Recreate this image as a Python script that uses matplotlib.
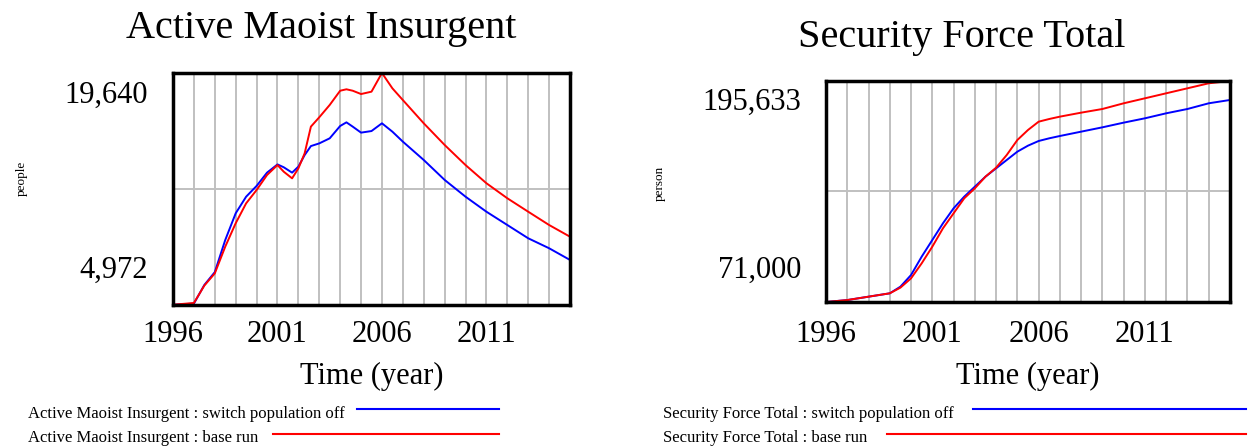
import matplotlib
matplotlib.use("Agg")
import matplotlib.pyplot as plt
from matplotlib.lines import Line2D
from matplotlib.transforms import offset_copy

plt.rcParams['font.family'] = ['Liberation Serif', 'DejaVu Serif']

# ---- simulation output (two runs per variable) ----
t_ins = [1996, 1997, 1997.5, 1998, 1998.5, 1999, 1999.5, 2000, 2000.5, 2001,
         2001.3, 2001.7, 2002, 2002.3, 2002.6, 2003, 2003.5, 2004, 2004.3, 2004.6,
         2005, 2005.5, 2006, 2006.5, 2007, 2008, 2009, 2010, 2011, 2012, 2013,
         2014, 2015]
ins_switch_off = [4990, 5060, 6240, 7050, 9080, 10770, 11820, 12500, 13340, 13860,
                  13680, 13340, 13720, 14450, 15020, 15190, 15510, 16290, 16520, 16250,
                  15870, 15970, 16460, 15930, 15300, 14140, 12880, 11820, 10870, 10030, 9190,
                  8560, 7820]
ins_base = [4990, 5100, 6200, 6970, 8660, 10140, 11400, 12240, 13190, 13820,
            13400, 12980, 13610, 14560, 16250, 16840, 17620, 18520, 18610, 18520,
            18310, 18460, 19640, 18670, 17930, 16460, 15090, 13820, 12670, 11720, 10870,
            10030, 9290]
ins_range = [4972, 19640]

t_sec = [1996, 1997, 1998, 1999, 1999.5, 2000, 2000.5, 2001, 2001.5, 2002, 2002.5,
         2003, 2003.5, 2004, 2004.5, 2005, 2005.5, 2006, 2006.5, 2007, 2008, 2009,
         2010, 2011, 2012, 2013, 2014, 2015]
sec_switch_off = [71000, 72100, 74000, 75900, 79650, 86230, 96570, 105970, 115370,
                  123830, 130400, 136040, 141680, 146390, 151090, 155790, 159170,
                  161800, 163320, 164620, 167070, 169510, 172150, 174600, 177420,
                  179850, 183060, 184930]
sec_base = [71000, 72100, 74000, 75900, 79100, 84350, 92810, 102200, 112550, 121010,
            129460, 135100, 141680, 146760, 153910, 162370, 168010, 172690, 174210,
            175530, 177780, 179850, 183060, 185880, 188700, 191520, 194340, 195633]
sec_range = [71000, 195633]

year_ticks = [1996, 2001, 2006, 2011]

W, H = 1249, 446
fig = plt.figure(figsize=(W / 100, H / 100), dpi=100)


def px_axes(x0, y0, x1, y1):
    return fig.add_axes([x0 / W, 1 - y1 / H, (x1 - x0) / W, (y1 - y0) / H])


def vensim_panel(ax, t, blue, red, yr, unit, top_off, bot_off, unit_xy, xpad):
    ax.plot(t, blue, color='#0000ff', lw=1.4, zorder=3)
    ax.plot(t, red, color='#ff0000', lw=1.4, zorder=3)
    ax.set_xlim(1996, 2015)
    ax.set_ylim(yr[0], yr[1])

    ax.set_xticks(year_ticks)
    ax.set_xticklabels([str(y) for y in year_ticks], fontsize=22)
    ax.set_xticks(range(1996, 2016), minor=True)
    ax.tick_params(axis='x', which='both', length=0, pad=xpad)
    ax.set_yticks([])
    ax.grid(True, axis='x', which='both', color='#c0c0c0', lw=1.4, zorder=1)
    ax.axhline((yr[0] + yr[1]) / 2, color='#c0c0c0', lw=1.4, zorder=1)

    for s in ax.spines.values():
        s.set_linewidth(2.5)
        s.set_color('black')
        s.set_zorder(5)

    # min / max labels sit inside the frame corners, Vensim style
    tr = ax.get_yaxis_transform()
    ax.text(0, yr[1], f"{yr[1]:,}", ha='right', va='center', fontsize=22,
            transform=offset_copy(tr, fig=fig, x=-25, y=-top_off, units='dots'))
    ax.text(0, yr[0], f"{yr[0]:,}", ha='right', va='center', fontsize=22,
            transform=offset_copy(tr, fig=fig, x=-25, y=bot_off, units='dots'))

    ax.set_xlabel("Time (year)", fontsize=22, labelpad=9)
    ax.set_ylabel(unit, fontsize=9.5)
    ax.yaxis.set_label_coords(unit_xy[0], unit_xy[1])


ax1 = px_axes(173, 73, 570, 305)
vensim_panel(ax1, t_ins, ins_switch_off, ins_base, ins_range, "people",
             22, 35, (-0.366, 0.547), 11)

ax2 = px_axes(826, 81, 1230, 302)
vensim_panel(ax2, t_sec, sec_switch_off, sec_base, sec_range, "person",
             21, 32, (-0.397, 0.538), 13)

fig.text(321 / W, 1 - 38 / H, "Active Maoist Insurgent", fontsize=29,
         ha='center', va='baseline')
fig.text(962 / W, 1 - 47 / H, "Security Force Total", fontsize=29,
         ha='center', va='baseline')


# legends below each panel
def legend_row(x_text, y_base, label, x0, x1, y_line, color):
    fig.text(x_text / W, 1 - y_base / H, label, fontsize=12, ha='left', va='baseline')
    fig.add_artist(Line2D([x0 / W, x1 / W], [1 - y_line / H, 1 - y_line / H],
                          color=color, lw=1.5, transform=fig.transFigure))


legend_row(28, 418, "Active Maoist Insurgent : switch population off", 357, 499, 409, '#0000ff')
legend_row(28, 442, "Active Maoist Insurgent : base run", 273, 499, 434, '#ff0000')
legend_row(663, 418, "Security Force Total : switch population off", 973, 1246, 409, '#0000ff')
legend_row(663, 442, "Security Force Total : base run", 887, 1246, 434, '#ff0000')

fig.savefig("out.png", dpi=100)
